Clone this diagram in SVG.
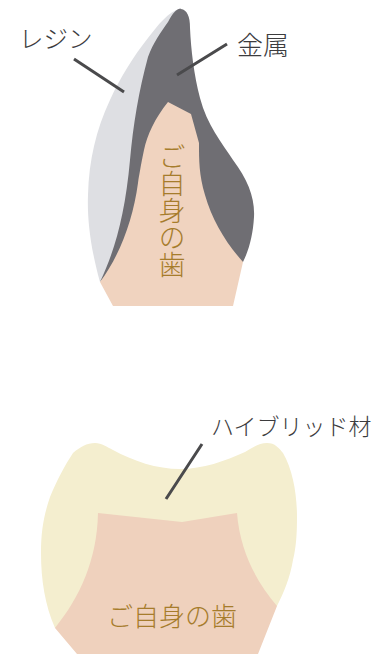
<svg xmlns="http://www.w3.org/2000/svg" width="376" height="654" viewBox="0 0 376 654">
<style>
text{font-family:"Noto Sans CJK JP","Noto Sans",sans-serif;font-weight:300}
.l{fill:#3c3c3e}
.g{fill:#a67c2c}
.c{fill:none;stroke:#4a4a4c;stroke-width:3}
</style>
<rect width="376" height="654" fill="#fff"/>
<g id="resin"><path fill="#dedfe3" d="M100 282C91 250 87 220 88 195C89 160 96 130 110 100C120 78 133 57 148 38C158 25 168 12 181 8L150 120L125 240Z"/></g>
<g id="metal"><path fill="#6f6e73" d="M100 282C115 250 125 215 130 160C133 125 139 90 148 57C153 43 161 32 168 22C173 13 177 8 181 9C187 10 190 16 190 28C191 50 194 75 200 98C207 125 222 143 233 160C248 180 255 198 254 217C253 235 249 250 243 262L170 250L120 262Z"/></g>
<g id="tooth1"><path fill="#f0d3bf" d="M100 282C120 255 133 220 138 183C141 165 142 160 144 150C147 135 155 118 168 102L191 114L199 143C199 160 199 175 205 195C212 220 226 243 243 262L233 306H113Z"/>
<text class="g" style="writing-mode:vertical-rl;font-size:27px" x="172" y="143">ご自身の歯</text></g>
<g id="hybrid"><path fill="#f4eecf" d="M55 628C45 605 41 580 41 553C41 530 44 515 50 497C57 480 65 465 73 453C80 447 87 443 95 443C102 443 107 447 113 450C133 461 157 469 180 469C203 469 225 461 245 452C252 448 259 443 267 443C275 443 279 448 283 453C293 470 297 495 297 517C297 535 296 548 293 560C290 578 284 592 277 606L180 640Z"/></g>
<g id="tooth2"><path fill="#efd1bd" d="M98 513L182 522L237 513C240 550 255 580 277 606L258 654H77L55 628C80 597 97 560 98 513Z"/>
<text class="g" style="font-size:26px" x="107" y="626">ご自身の歯</text></g>
<g id="connectors">
<path class="c" d="M74 59L124 92M227 44L177 75M202 444L166 499"/>
</g>
<g id="labels">
<text class="l" style="font-size:24.5px" x="19" y="48">レジン</text>
<text class="l" style="font-size:26px" x="237" y="55">金属</text>
<text class="l" style="font-size:23px" x="211" y="435">ハイブリッド材</text>
</g>
</svg>
